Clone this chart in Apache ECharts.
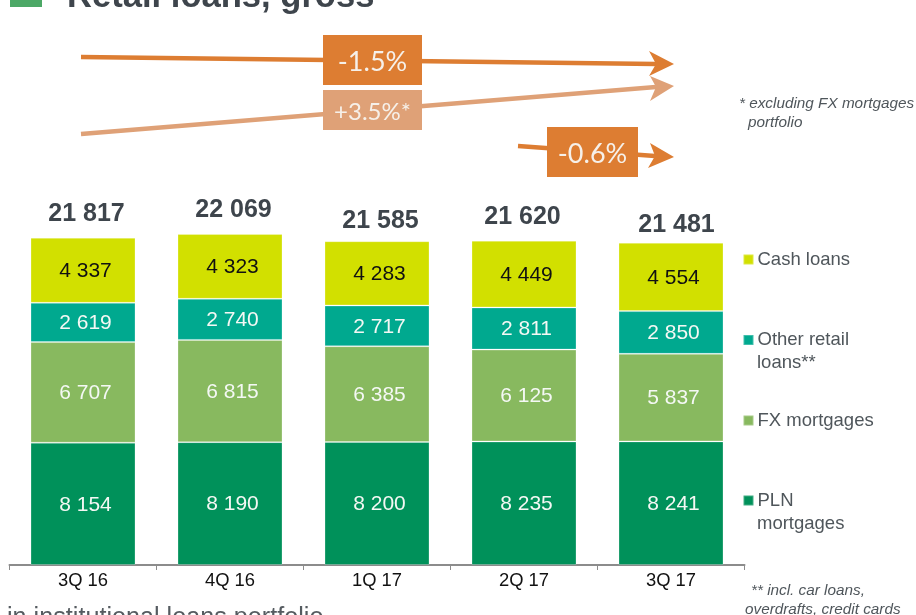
<!DOCTYPE html>
<html><head><meta charset="utf-8">
<style>html,body{margin:0;padding:0;background:#fff}#c{width:916px;height:615px}</style>
<script src="https://cdn.jsdelivr.net/npm/echarts@6/dist/echarts.min.js"></script>
</head><body><div id="c"></div>
<script>
const categories = ['3Q 16','4Q 16','1Q 17','2Q 17','3Q 17'];
const plnMortgages = [8154,8190,8200,8235,8241];
const fxMortgages = [6707,6815,6385,6125,5837];
const otherRetail = [2619,2740,2717,2811,2850];
const cashLoans = [4337,4323,4283,4449,4554];
const totals = [21817,22069,21585,21620,21481];

const fmt = v => String(v).replace(/(\d)(?=(\d{3})$)/, '$1 ');
const FONT = '"Liberation Sans", Arial, sans-serif';
const DARK = '#3e454c', GREY = '#4f565b';
const ORANGE = '#dd7d32', PEACH = '#dfa177';
const totalNudge = [[3.5,-10.5],[3.5,-10.5],[3.5,-7.5],[-1.5,-10.5],[5.5,-4.5]];

function seg(name, data, color, labelColor){
  return {name, type:'bar', stack:'t', data, barWidth:105, animation:false,
    itemStyle:{color, borderColor:'rgba(255,255,255,0.25)', borderWidth:1},
    label:{show:true, position:'inside', offset:[2.5,1], color:labelColor, fontFamily:FONT, fontSize:21,
      formatter:p=>fmt(p.value)}};
}
function leg(name, top, color){
  return {show:true, data:[{name, icon:'rect', itemStyle:{color}}], left:742.5, top, orient:'vertical',
    padding:0, itemWidth:10, itemHeight:10, itemGap:0, selectedMode:false,
    formatter:n=>n.split('|')[0],
    textStyle:{color:GREY, fontFamily:FONT, fontSize:18.5, padding:[0,0,0,-1]}};
}
function arrow(x1,y1,x2,y2,bx1,by1,bx2,by2,nx,ny,color){
  return [
    {type:'line', silent:true, shape:{x1,y1,x2:nx,y2:ny}, style:{stroke:color, lineWidth:4.5}, z:1},
    {type:'polygon', silent:true, shape:{points:[[x2,y2],[bx1,by1],[nx,ny],[bx2,by2]]}, style:{fill:color}, z:1}
  ];
}
function box(x,y,w,h,color,text,size){
  return {type:'rect', silent:true, shape:{x,y,width:w,height:h}, style:{fill:color}, z:2,
    textContent:{style:{text, fill:'#f6f0e9', font:size+'px Lato, sans-serif'}, z:3},
    textConfig:{position:'inside', offset:[0,2]}};
}
function txt(x,y,text,font,fill){
  return {type:'text', silent:true, x, y, style:{text, font, fill, textVerticalAlign:'middle'}, z:4};
}
const chart = echarts.init(document.getElementById('c'));
chart.setOption({
  animation:false,
  backgroundColor:'#fff',
  grid:{left:9.5, width:735, top:205, height:360, containLabel:false},
  legend:[
    leg('Cash loans',250,'#d2e000'),
    leg('Other retail|loans**',330.5,'#00a98f'),
    leg('FX mortgages',411,'#88b95f'),
    leg('PLN|mortgages',491,'#00915a')
  ],
  xAxis:{type:'category', data:categories,
    axisLine:{lineStyle:{color:'#8c8c8c', width:2}},
    axisTick:{show:true, alignWithLabel:false, length:5, lineStyle:{color:'#8c8c8c', width:1}},
    axisLabel:{color:'#111', fontFamily:FONT, fontSize:18.4, margin:7}},
  yAxis:{type:'value', min:0, max:24000, show:false},
  series:[
    seg('PLN|mortgages', plnMortgages, '#00915a', '#f4f8f4'),
    seg('FX mortgages', fxMortgages, '#88b95f', '#f4f8f4'),
    seg('Other retail|loans**', otherRetail, '#00a98f', '#f4f8f4'),
    seg('Cash loans', cashLoans, '#d2e000', '#111'),
    {name:'Total', type:'line', data:totals.map((v,i)=>({value:v,
        label:{offset:totalNudge[i]}})),
      symbol:'circle', symbolSize:1, showSymbol:true, itemStyle:{color:'rgba(0,0,0,0)'}, lineStyle:{opacity:0}, silent:true,
      label:{show:true, position:'top', distance:0, color:DARK, fontFamily:FONT, fontSize:25, fontWeight:'bold',
        formatter:p=>fmt(p.value)}}
  ],
  graphic:[
    {type:'rect', silent:true, shape:{x:10,y:-10,width:32,height:17}, style:{fill:'#4ca866'}},
    txt(67,-3,'Retail loans, gross','bold 34.6px '+FONT,DARK),
    ...arrow(81,57,674,64,649,51,649,76,656,64,ORANGE),
    ...arrow(81,134,674,86,650,76,650,101,656,87,PEACH),
    ...arrow(518,146,674,157,650,143,648,168,655,156,ORANGE),
    box(323,35,99,50,ORANGE,'-1.5%',27),
    box(323,90,99,40,PEACH,'+3.5%*',24),
    box(547,127,91,50,ORANGE,'-0.6%',27),
    txt(739,104,'* excluding FX mortgages','italic 15.3px '+FONT,GREY),
    txt(748,123,'portfolio','italic 15.3px '+FONT,GREY),
    txt(757,362.5,'loans**','18.5px '+FONT,GREY),
    txt(757,523.5,'mortgages','18.5px '+FONT,GREY),
    txt(751,591,'** incl. car loans,','italic 15.3px '+FONT,GREY),
    txt(745,610,'overdrafts, credit cards','italic 15.3px '+FONT,GREY),
    txt(7,618,'in institutional loans portfolio','25.2px '+FONT,'#555b60')
  ]
});
</script></body></html>
